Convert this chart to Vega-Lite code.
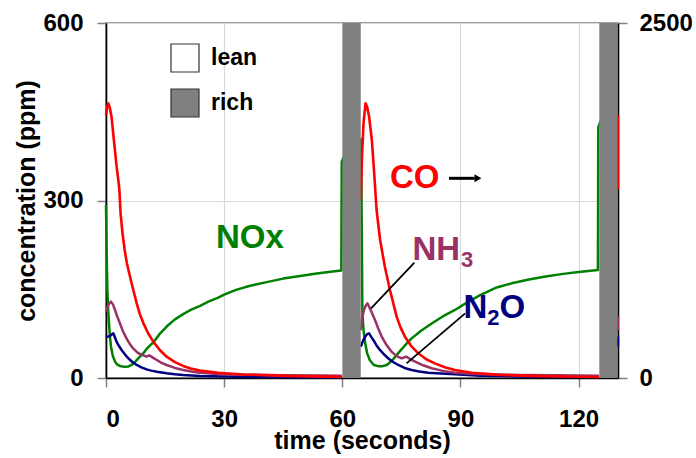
{
  "$schema": "https://vega.github.io/schema/vega-lite/v6.json",
  "width": 512,
  "height": 355,
  "autosize": {"type": "none"},
  "padding": {"left": 106, "top": 23, "right": 78, "bottom": 80},
  "background": "white",
  "config": {
    "font": "Liberation Sans",
    "view": {"stroke": "#808080", "strokeWidth": 1.5},
    "axis": {
      "labelFont": "Liberation Sans", "labelFontWeight": "bold", "labelFontSize": 24, "labelColor": "black",
      "titleFont": "Liberation Sans", "titleFontWeight": "bold", "titleFontSize": 25, "titleColor": "black",
      "domainColor": "black", "domainWidth": 1.6, "tickColor": "#808080", "tickSize": 9, "tickWidth": 1.5,
      "gridColor": "#d9d9d9", "gridWidth": 1.2, "zindex": 1
    }
  },
  "datasets": {
    "left": [
      {"s":"NOx","c":1,"t":0,"v":292},{"s":"NOx","c":1,"t":0.15,"v":220},{"s":"NOx","c":1,"t":0.34,"v":149},{"s":"NOx","c":1,"t":0.55,"v":115},{"s":"NOx","c":1,"t":0.76,"v":93},{"s":"NOx","c":1,"t":1.0,"v":70},{"s":"NOx","c":1,"t":1.27,"v":53},{"s":"NOx","c":1,"t":1.7,"v":38},{"s":"NOx","c":1,"t":2.29,"v":27.6},{"s":"NOx","c":1,"t":2.9,"v":22.5},{"s":"NOx","c":1,"t":3.55,"v":20.3},{"s":"NOx","c":1,"t":4.2,"v":19.3},{"s":"NOx","c":1,"t":4.82,"v":19},{"s":"NOx","c":1,"t":5.7,"v":19.5},{"s":"NOx","c":1,"t":6.5,"v":22},{"s":"NOx","c":1,"t":7.5,"v":28},{"s":"NOx","c":1,"t":8.6,"v":36},{"s":"NOx","c":1,"t":9.5,"v":42},{"s":"NOx","c":1,"t":10.3,"v":49},{"s":"NOx","c":1,"t":11.2,"v":55},{"s":"NOx","c":1,"t":12,"v":60},{"s":"NOx","c":1,"t":13.7,"v":75},{"s":"NOx","c":1,"t":15.4,"v":87},{"s":"NOx","c":1,"t":17.5,"v":99},{"s":"NOx","c":1,"t":19.6,"v":108},{"s":"NOx","c":1,"t":21.5,"v":115},{"s":"NOx","c":1,"t":23.9,"v":122},{"s":"NOx","c":1,"t":26,"v":129},{"s":"NOx","c":1,"t":28.5,"v":136},{"s":"NOx","c":1,"t":30,"v":141},{"s":"NOx","c":1,"t":33,"v":149},{"s":"NOx","c":1,"t":36.6,"v":156},{"s":"NOx","c":1,"t":40.8,"v":162},{"s":"NOx","c":1,"t":45,"v":168},{"s":"NOx","c":1,"t":49.3,"v":172.5},{"s":"NOx","c":1,"t":53.5,"v":176.5},{"s":"NOx","c":1,"t":57,"v":179.5},{"s":"NOx","c":1,"t":59.75,"v":181.5},{"s":"NOx","c":1,"t":59.85,"v":365},{"s":"NOx","c":1,"t":60.6,"v":378},
      {"s":"NOx","c":2,"t":64.7,"v":405},{"s":"NOx","c":2,"t":64.85,"v":330},{"s":"NOx","c":2,"t":65.0,"v":200},{"s":"NOx","c":2,"t":65.1,"v":110},{"s":"NOx","c":2,"t":65.4,"v":80},{"s":"NOx","c":2,"t":65.8,"v":59},{"s":"NOx","c":2,"t":66.3,"v":42},{"s":"NOx","c":2,"t":67.0,"v":30},{"s":"NOx","c":2,"t":68.0,"v":22},{"s":"NOx","c":2,"t":69.1,"v":20},{"s":"NOx","c":2,"t":70.2,"v":20},{"s":"NOx","c":2,"t":71.3,"v":22},{"s":"NOx","c":2,"t":72.7,"v":30},{"s":"NOx","c":2,"t":74.2,"v":42},{"s":"NOx","c":2,"t":75.9,"v":55},{"s":"NOx","c":2,"t":77.6,"v":67},{"s":"NOx","c":2,"t":80,"v":80},{"s":"NOx","c":2,"t":82.7,"v":92},{"s":"NOx","c":2,"t":85.5,"v":104},{"s":"NOx","c":2,"t":88.6,"v":115},{"s":"NOx","c":2,"t":91.5,"v":127},{"s":"NOx","c":2,"t":95,"v":140},{"s":"NOx","c":2,"t":99.2,"v":153},{"s":"NOx","c":2,"t":103,"v":160},{"s":"NOx","c":2,"t":107.7,"v":167},{"s":"NOx","c":2,"t":112,"v":172},{"s":"NOx","c":2,"t":116.1,"v":176},{"s":"NOx","c":2,"t":120,"v":179},{"s":"NOx","c":2,"t":124.9,"v":182.5},{"s":"NOx","c":2,"t":125.0,"v":424},{"s":"NOx","c":2,"t":125.7,"v":436},
      {"s":"N2O","c":1,"t":0,"v":69},{"s":"N2O","c":1,"t":0.5,"v":70},{"s":"N2O","c":1,"t":1.0,"v":71},{"s":"N2O","c":1,"t":1.5,"v":74},{"s":"N2O","c":1,"t":1.86,"v":75.5},{"s":"N2O","c":1,"t":2.3,"v":68},{"s":"N2O","c":1,"t":2.7,"v":61},{"s":"N2O","c":1,"t":3.3,"v":54},{"s":"N2O","c":1,"t":4.0,"v":47},{"s":"N2O","c":1,"t":4.8,"v":40},{"s":"N2O","c":1,"t":5.7,"v":33},{"s":"N2O","c":1,"t":6.7,"v":27},{"s":"N2O","c":1,"t":7.8,"v":22},{"s":"N2O","c":1,"t":9,"v":18},{"s":"N2O","c":1,"t":10.3,"v":14.6},{"s":"N2O","c":1,"t":11.5,"v":12.5},{"s":"N2O","c":1,"t":12.9,"v":10.7},{"s":"N2O","c":1,"t":15.4,"v":7.9},{"s":"N2O","c":1,"t":17.5,"v":6.2},{"s":"N2O","c":1,"t":19.6,"v":5},{"s":"N2O","c":1,"t":23.9,"v":3.4},{"s":"N2O","c":1,"t":30,"v":2.5},{"s":"N2O","c":1,"t":40,"v":1.5},{"s":"N2O","c":1,"t":50,"v":1.2},{"s":"N2O","c":1,"t":59.8,"v":1},
      {"s":"N2O","c":2,"t":64.7,"v":53},{"s":"N2O","c":2,"t":65.2,"v":62},{"s":"N2O","c":2,"t":65.8,"v":70},{"s":"N2O","c":2,"t":66.3,"v":74},{"s":"N2O","c":2,"t":66.8,"v":75.5},{"s":"N2O","c":2,"t":67.3,"v":70},{"s":"N2O","c":2,"t":67.9,"v":64},{"s":"N2O","c":2,"t":68.7,"v":55},{"s":"N2O","c":2,"t":69.6,"v":47},{"s":"N2O","c":2,"t":70.6,"v":40},{"s":"N2O","c":2,"t":71.7,"v":33},{"s":"N2O","c":2,"t":72.9,"v":27},{"s":"N2O","c":2,"t":74.2,"v":22},{"s":"N2O","c":2,"t":75.8,"v":17},{"s":"N2O","c":2,"t":77.6,"v":13.5},{"s":"N2O","c":2,"t":79.5,"v":11},{"s":"N2O","c":2,"t":81.8,"v":9},{"s":"N2O","c":2,"t":85,"v":7.5},{"s":"N2O","c":2,"t":88.6,"v":6.2},{"s":"N2O","c":2,"t":95,"v":4},{"s":"N2O","c":2,"t":105,"v":2.5},{"s":"N2O","c":2,"t":115,"v":1.8},{"s":"N2O","c":2,"t":125.2,"v":1.5},
      {"s":"N2O","c":3,"t":130,"v":53},{"s":"N2O","c":3,"t":130,"v":70},
      {"s":"NH3","c":1,"t":0,"v":112},{"s":"NH3","c":1,"t":0.6,"v":124},{"s":"NH3","c":1,"t":1.27,"v":129},{"s":"NH3","c":1,"t":1.8,"v":124},{"s":"NH3","c":1,"t":2.29,"v":115},{"s":"NH3","c":1,"t":2.9,"v":103},{"s":"NH3","c":1,"t":3.55,"v":92},{"s":"NH3","c":1,"t":4.3,"v":79},{"s":"NH3","c":1,"t":5.2,"v":67},{"s":"NH3","c":1,"t":6.0,"v":58},{"s":"NH3","c":1,"t":6.9,"v":50},{"s":"NH3","c":1,"t":8.0,"v":43},{"s":"NH3","c":1,"t":9.1,"v":39},{"s":"NH3","c":1,"t":10.3,"v":36},{"s":"NH3","c":1,"t":10.8,"v":38},{"s":"NH3","c":1,"t":11.2,"v":37.7},{"s":"NH3","c":1,"t":12.0,"v":34},{"s":"NH3","c":1,"t":12.9,"v":30.4},{"s":"NH3","c":1,"t":14,"v":26},{"s":"NH3","c":1,"t":15.4,"v":22},{"s":"NH3","c":1,"t":17.5,"v":17},{"s":"NH3","c":1,"t":19.6,"v":13.5},{"s":"NH3","c":1,"t":22,"v":10.5},{"s":"NH3","c":1,"t":23.9,"v":9},{"s":"NH3","c":1,"t":28.5,"v":6.8},{"s":"NH3","c":1,"t":35,"v":5.5},{"s":"NH3","c":1,"t":45,"v":4.8},{"s":"NH3","c":1,"t":55,"v":4.3},{"s":"NH3","c":1,"t":59.8,"v":4},
      {"s":"NH3","c":2,"t":64.7,"v":81},{"s":"NH3","c":2,"t":65.0,"v":100},{"s":"NH3","c":2,"t":65.5,"v":115},{"s":"NH3","c":2,"t":66.0,"v":123},{"s":"NH3","c":2,"t":66.4,"v":126},{"s":"NH3","c":2,"t":67.2,"v":115},{"s":"NH3","c":2,"t":68.3,"v":98},{"s":"NH3","c":2,"t":69.1,"v":84},{"s":"NH3","c":2,"t":70,"v":70},{"s":"NH3","c":2,"t":71.2,"v":56},{"s":"NH3","c":2,"t":72.5,"v":44.5},{"s":"NH3","c":2,"t":73.8,"v":37},{"s":"NH3","c":2,"t":75.1,"v":33},{"s":"NH3","c":2,"t":75.7,"v":35},{"s":"NH3","c":2,"t":76.3,"v":36},{"s":"NH3","c":2,"t":77.2,"v":32},{"s":"NH3","c":2,"t":78.5,"v":27.6},{"s":"NH3","c":2,"t":80.5,"v":21.5},{"s":"NH3","c":2,"t":82.7,"v":16.4},{"s":"NH3","c":2,"t":85.5,"v":12},{"s":"NH3","c":2,"t":88.6,"v":9},{"s":"NH3","c":2,"t":95,"v":6.5},{"s":"NH3","c":2,"t":105,"v":5},{"s":"NH3","c":2,"t":115,"v":4.5},{"s":"NH3","c":2,"t":125.2,"v":4},
      {"s":"NH3","c":3,"t":130,"v":81},{"s":"NH3","c":3,"t":130,"v":104}
    ],
    "co": [
      {"c":1,"t":0,"v":1852},{"c":1,"t":0.3,"v":1910},{"c":1,"t":0.6,"v":1934},{"c":1,"t":1.0,"v":1900},{"c":1,"t":1.4,"v":1840},{"c":1,"t":2.0,"v":1676},{"c":1,"t":2.7,"v":1488},{"c":1,"t":3.1,"v":1400},{"c":1,"t":3.4,"v":1324},{"c":1,"t":3.7,"v":1160},{"c":1,"t":4.2,"v":1019},{"c":1,"t":4.7,"v":910},{"c":1,"t":5.3,"v":808},{"c":1,"t":6.5,"v":667},{"c":1,"t":7.8,"v":526},{"c":1,"t":8.6,"v":450},{"c":1,"t":9.5,"v":385},{"c":1,"t":10.7,"v":315},{"c":1,"t":12.0,"v":256},{"c":1,"t":13.7,"v":195},{"c":1,"t":15.4,"v":150},{"c":1,"t":17.5,"v":112},{"c":1,"t":19.6,"v":85},{"c":1,"t":21.5,"v":67},{"c":1,"t":23.9,"v":52},{"c":1,"t":28.5,"v":36},{"c":1,"t":35,"v":25},{"c":1,"t":45,"v":15},{"c":1,"t":55,"v":10},{"c":1,"t":60,"v":8},
      {"c":2,"t":64.7,"v":1250},{"c":2,"t":65.0,"v":1560},{"c":2,"t":65.4,"v":1800},{"c":2,"t":65.9,"v":1934},{"c":2,"t":66.3,"v":1910},{"c":2,"t":66.8,"v":1840},{"c":2,"t":67.5,"v":1676},{"c":2,"t":68.1,"v":1441},{"c":2,"t":68.7,"v":1183},{"c":2,"t":69.6,"v":972},{"c":2,"t":70.8,"v":784},{"c":2,"t":72.1,"v":620},{"c":2,"t":73.0,"v":520},{"c":2,"t":73.8,"v":432},{"c":2,"t":74.8,"v":355},{"c":2,"t":75.9,"v":291},{"c":2,"t":77.5,"v":225},{"c":2,"t":79.3,"v":174},{"c":2,"t":81.3,"v":132},{"c":2,"t":83.5,"v":103},{"c":2,"t":86,"v":76},{"c":2,"t":88.6,"v":56},{"c":2,"t":92.9,"v":37},{"c":2,"t":100,"v":22},{"c":2,"t":110,"v":13},{"c":2,"t":120,"v":9},{"c":2,"t":125.2,"v":7},
      {"c":3,"t":130,"v":1330},{"c":3,"t":130,"v":1850}
    ],
    "phases": [
      {"phase":"rich","t":60.05,"t2":64.68},
      {"phase":"rich","t":125.25,"t2":129.85}
    ],
    "labels": [
      {"lab":"NOx","t":27.9,"v":219},
      {"lab":"CO","t":72.1,"v":321},
      {"lab":"NH","t":77.8,"v":199.4},
      {"lab":"N","t":90.8,"v":100.9},
      {"lab":"O","t":99.9,"v":100.9}
    ],
    "subs": [
      {"lab":"3","t":90.15,"v":188},
      {"lab":"2","t":96.8,"v":89.6}
    ],
    "leaders": [
      {"t":67.3,"v":117.8,"t2":78.3,"v2":194.9},
      {"t":76.3,"v":24.8,"t2":91.2,"v2":109.3}
    ],
    "arrow": [
      {"t":87.1,"v":337.5,"t2":93.6}
    ],
    "arrowhead": [
      {"t":94.45,"v":337.5}
    ]
  },
  "layer": [
    {
      "data": {"name": "left"},
      "mark": {"type": "line", "strokeWidth": 2.5, "strokeJoin": "round"},
      "encoding": {
        "x": {"field": "t", "type": "quantitative", "scale": {"domain": [0, 130], "nice": false, "zero": false},
              "axis": {"values": [0, 30, 60, 90, 120], "title": "time (seconds)", "grid": true, "labelPadding": 20,
                       "titleX": 256, "titleY": 70, "titleBaseline": "alphabetic", "titleAlign": "center"}},
        "y": {"field": "v", "type": "quantitative", "scale": {"domain": [0, 600], "nice": false},
              "axis": {"values": [0, 300, 600], "title": "concentration (ppm)", "grid": true, "labelPadding": 14,
                       "titleX": -80, "titleY": 177.5, "titleAngle": -90, "titleAlign": "center", "titleBaseline": "middle"}},
        "stroke": {"field": "s", "type": "nominal", "scale": {"domain": ["NOx", "NH3", "N2O"], "range": ["#008000", "#993366", "#000080"]}, "legend": null},
        "detail": {"field": "c", "type": "nominal"},
        "order": {"field": "t", "type": "quantitative"}
      }
    },
    {
      "data": {"name": "co"},
      "mark": {"type": "line", "strokeWidth": 2.6, "color": "#ff0000", "strokeJoin": "round"},
      "encoding": {
        "x": {"field": "t", "type": "quantitative", "scale": {"domain": [0, 130], "nice": false, "zero": false}},
        "y": {"field": "v", "type": "quantitative", "scale": {"domain": [0, 2500], "nice": false},
              "axis": {"orient": "right", "values": [0, 2500], "format": "d", "title": null, "grid": false, "labelPadding": 12}},
        "detail": {"field": "c", "type": "nominal"},
        "order": {"field": "t", "type": "quantitative"}
      }
    },
    {
      "data": {"name": "phases"},
      "mark": {"type": "rect", "opacity": 1},
      "encoding": {
        "x": {"field": "t", "type": "quantitative", "scale": {"domain": [0, 130], "nice": false, "zero": false}},
        "x2": {"field": "t2"},
        "fill": {"field": "phase", "type": "nominal",
                 "scale": {"domain": ["lean", "rich"], "range": ["white", "#808080"]},
                 "legend": {"orient": "none", "legendX": 64, "legendY": 20, "title": null, "direction": "vertical",
                            "symbolType": "square", "symbolSize": 784, "symbolStrokeColor": "#333333", "symbolStrokeWidth": 1.2,
                            "symbolOpacity": 1, "labelFont": "Liberation Sans", "labelFontSize": 23, "labelFontWeight": "bold",
                            "labelColor": "black", "labelOffset": 11, "rowPadding": 11, "padding": 0}}
      }
    },
    {
      "layer": [
        {
          "data": {"name": "leaders"},
          "mark": {"type": "rule", "color": "black", "strokeWidth": 1.8},
          "encoding": {
            "x": {"field": "t", "type": "quantitative", "scale": {"domain": [0, 130], "nice": false, "zero": false}},
            "x2": {"field": "t2"},
            "y": {"field": "v", "type": "quantitative", "scale": {"domain": [0, 600], "nice": false}, "axis": null},
            "y2": {"field": "v2"}
          }
        },
        {
          "data": {"name": "arrow"},
          "mark": {"type": "rule", "color": "black", "strokeWidth": 3},
          "encoding": {
            "x": {"field": "t", "type": "quantitative", "scale": {"domain": [0, 130], "nice": false, "zero": false}},
            "x2": {"field": "t2"},
            "y": {"field": "v", "type": "quantitative", "scale": {"domain": [0, 600], "nice": false}, "axis": null}
          }
        },
        {
          "data": {"name": "arrowhead"},
          "mark": {"type": "point", "shape": "triangle-right", "filled": true, "color": "black", "size": 64, "opacity": 1},
          "encoding": {
            "x": {"field": "t", "type": "quantitative", "scale": {"domain": [0, 130], "nice": false, "zero": false}},
            "y": {"field": "v", "type": "quantitative", "scale": {"domain": [0, 600], "nice": false}, "axis": null}
          }
        },
        {
          "data": {"name": "labels"},
          "mark": {"type": "text", "font": "Liberation Sans", "fontWeight": "bold", "fontSize": 33, "align": "left", "baseline": "alphabetic"},
          "encoding": {
            "x": {"field": "t", "type": "quantitative", "scale": {"domain": [0, 130], "nice": false, "zero": false}},
            "y": {"field": "v", "type": "quantitative", "scale": {"domain": [0, 600], "nice": false}, "axis": null},
            "text": {"field": "lab"},
            "color": {"field": "lab", "type": "nominal",
                      "scale": {"domain": ["NOx", "CO", "NH", "N", "O", "3", "2"], "range": ["#008000", "#ff0000", "#993366", "#000080", "#000080", "#993366", "#000080"]},
                      "legend": null}
          }
        },
        {
          "data": {"name": "subs"},
          "mark": {"type": "text", "font": "Liberation Sans", "fontWeight": "bold", "fontSize": 22, "align": "left", "baseline": "alphabetic"},
          "encoding": {
            "x": {"field": "t", "type": "quantitative", "scale": {"domain": [0, 130], "nice": false, "zero": false}},
            "y": {"field": "v", "type": "quantitative", "scale": {"domain": [0, 600], "nice": false}, "axis": null},
            "text": {"field": "lab"},
            "color": {"field": "lab", "type": "nominal",
                      "scale": {"domain": ["NOx", "CO", "NH", "N", "O", "3", "2"], "range": ["#008000", "#ff0000", "#993366", "#000080", "#000080", "#993366", "#000080"]},
                      "legend": null}
          }
        }
      ]
    }
  ],
  "resolve": {"scale": {"y": "independent"}}
}
